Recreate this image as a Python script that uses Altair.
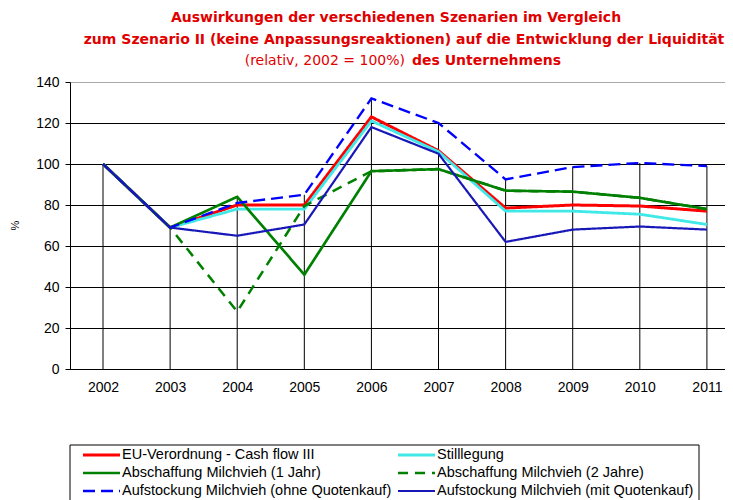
import altair as alt
import pandas as pd

# ---------------- data ----------------
years = [2002, 2003, 2004, 2005, 2006, 2007, 2008, 2009, 2010, 2011]
series_names = [
    "EU-Verordnung - Cash flow III",
    "Stilllegung",
    "Abschaffung Milchvieh (1 Jahr)",
    "Abschaffung Milchvieh (2 Jahre)",
    "Aufstockung Milchvieh (ohne Quotenkauf)",
    "Aufstockung Milchvieh (mit Quotenkauf)",
]
eu_cashflow = [100, 69, 80, 80, 123, 106.5, 78.5, 80, 79.5, 77]
stilllegung = [100, 69, 78, 78, 121, 106, 77, 77, 75.5, 70.5]
abschaffung_1 = [100, 69, 84, 46, 96.5, 97.5, 87, 86.5, 83.5, 78]
abschaffung_2 = [100, 69, 28, 79.5, 96.5, 97.5, 87, 86.5, 83.5, 78]
aufstockung_ohne = [100, 69, 81, 85, 132, 120, 92.5, 98.5, 100.5, 99]
aufstockung_mit = [100, 69, 65, 70.5, 118, 105, 62, 68, 69.5, 68]
y_ticks = [0, 20, 40, 60, 80, 100, 120, 140]

title_line1 = "Auswirkungen der verschiedenen Szenarien im Vergleich"
title_line2 = "zum Szenario II (keine Anpassungsreaktionen) auf die Entwicklung der Liquidität"
title_line3a = "(relativ, 2002 = 100%)"
title_line3b = "des Unternehmens"
y_title = "%"

# ---------------- styles ----------------
series_colors = ["#FF0000", "#40E8E8", "#008000", "#008000", "#0000FF", "#1818B8"]
series_dashes = [[1, 0], [1, 0], [1, 0], [10, 7], [12, 6], [1, 0]]
series_widths = [3, 2.2, 2, 2, 2.4, 2]

values_all = [eu_cashflow, stilllegung, abschaffung_1, abschaffung_2,
              aufstockung_ohne, aufstockung_mit]
rows = []
for i, (name, vals) in enumerate(zip(series_names, values_all)):
    for yr, v in zip(years, vals):
        rows.append({"series": name, "idx": i, "year": yr, "value": v})
df = pd.DataFrame(rows)
legend_df = pd.DataFrame({"series": series_names, "idx": list(range(len(series_names)))})
one = pd.DataFrame({"k": [0]})

W, H = 655, 287
x_scale = alt.Scale(domain=[2001.508, 2001.508 + W / 67.1], nice=False, zero=False)
y_scale = alt.Scale(domain=[0, 140], nice=False)
color_scale = alt.Scale(domain=series_names, range=series_colors)
dash_scale = alt.Scale(domain=series_names, range=series_dashes)
width_scale = alt.Scale(domain=series_names, range=series_widths)

x_axis_values = sorted(years + [y - 0.5 for y in years])
afont = "Liberation Sans"

x_axis = alt.Axis(
    values=x_axis_values,
    labelExpr="datum.value % 1 === 0 ? format(datum.value, 'd') : ''",
    labelOverlap=False, labelFlush=False, labelBound=False,
    tickColor={"condition": {"test": "datum.value % 1 === 0", "value": "transparent"}, "value": "black"},
    tickSize=5, labelPadding=6, domainColor="black", grid=False, title=None,
    labelFontSize=14, labelColor="black", labelFont=afont,
)
y_axis = alt.Axis(
    values=y_ticks, grid=True,
    gridColor={"condition": {"test": "datum.value === 140", "value": "#A8A8A8"}, "value": "black"},
    gridWidth=1, tickColor="black", tickSize=5, domainColor="black",
    labelFontSize=14, labelColor="black", labelFont=afont, labelPadding=6,
    title=y_title, titleX=-55, titleY=143, titleAngle=270, titleFontSize=11,
    titleFontWeight="normal", titleColor="black", titleFont=afont,
    titleAlign="center", titleBaseline="middle",
)

drops = alt.Chart(df).transform_aggregate(
    vmax="max(value)", groupby=["year"]
).mark_rule(color="black", strokeWidth=1).encode(
    x=alt.X("year:Q", scale=x_scale, axis=x_axis),
    y=alt.Y("vmax:Q", scale=y_scale, axis=y_axis),
    y2=alt.datum(0),
)

lines = alt.Chart(df).mark_line(clip=False).encode(
    x=alt.X("year:Q", scale=x_scale),
    y=alt.Y("value:Q", scale=y_scale),
    color=alt.Color("series:N", scale=color_scale, legend=None),
    strokeDash=alt.StrokeDash("series:N", scale=dash_scale, legend=None),
    strokeWidth=alt.StrokeWidth("series:N", scale=width_scale, legend=None),
    detail="idx:O",
    order="idx:Q",
)

# ---- legend (drawn manually to match the framed two-column box) ----
leg_base = alt.Chart(legend_df).transform_calculate(
    col="datum.idx % 2", row="floor(datum.idx / 2)"
).transform_calculate(
    lx="13 + datum.col * 315", ly="373 + datum.row * 18"
).transform_calculate(
    lx2="datum.lx + 37", tx="datum.lx + 39"
)
leg_lines = leg_base.mark_rule().encode(
    x=alt.X("lx:Q", scale=None), x2="lx2:Q", y=alt.Y("ly:Q", scale=None),
    color=alt.Color("series:N", scale=color_scale, legend=None),
    strokeDash=alt.StrokeDash("series:N", scale=dash_scale, legend=None),
    strokeWidth=alt.StrokeWidth("series:N", scale=width_scale, legend=None),
)
leg_text = leg_base.mark_text(
    align="left", baseline="middle", fontSize=14.5, font=afont, color="black"
).encode(x=alt.X("tx:Q", scale=None), y=alt.Y("ly:Q", scale=None), text="series:N")

box_top = alt.Chart(one).mark_rule(color="black", strokeWidth=1).encode(
    x=alt.value(0), x2=alt.value(629), y=alt.value(363))
box_left = alt.Chart(one).mark_rule(color="black", strokeWidth=1).encode(
    x=alt.value(0), y=alt.value(363), y2=alt.value(440))
box_right = alt.Chart(one).mark_rule(color="black", strokeWidth=1).encode(
    x=alt.value(629), y=alt.value(363), y2=alt.value(440))

# ---- title ----
tfont = "DejaVu Sans"
tsize = 14
tcol = "#E00000"
t1 = alt.Chart(one).mark_text(fontSize=tsize, fontWeight="bold", color=tcol, font=tfont,
                              align="center", baseline="middle").encode(
    x=alt.value(326), y=alt.value(-64), text=alt.value(title_line1))
t2 = alt.Chart(one).mark_text(fontSize=tsize, fontWeight="bold", color=tcol, font=tfont,
                              align="center", baseline="middle").encode(
    x=alt.value(334), y=alt.value(-42), text=alt.value(title_line2))
t3a = alt.Chart(one).mark_text(fontSize=tsize, fontWeight="normal", color=tcol, font=tfont,
                               align="right", baseline="middle").encode(
    x=alt.value(335), y=alt.value(-21), text=alt.value(title_line3a))
t3b = alt.Chart(one).mark_text(fontSize=tsize, fontWeight="bold", color=tcol, font=tfont,
                               align="left", baseline="middle").encode(
    x=alt.value(342), y=alt.value(-21), text=alt.value(title_line3b))

chart = alt.layer(
    drops, lines, leg_lines, leg_text, box_top, box_left, box_right, t1, t2, t3a, t3b
).properties(
    width=W, height=H,
    padding={"left": 62, "top": 74, "right": 0, "bottom": 131},
    autosize=alt.AutoSizeParams(type="none"),
    background="white",
).configure_view(stroke=None)

chart.save("out.html", embed_options={"renderer": "svg", "actions": False})
